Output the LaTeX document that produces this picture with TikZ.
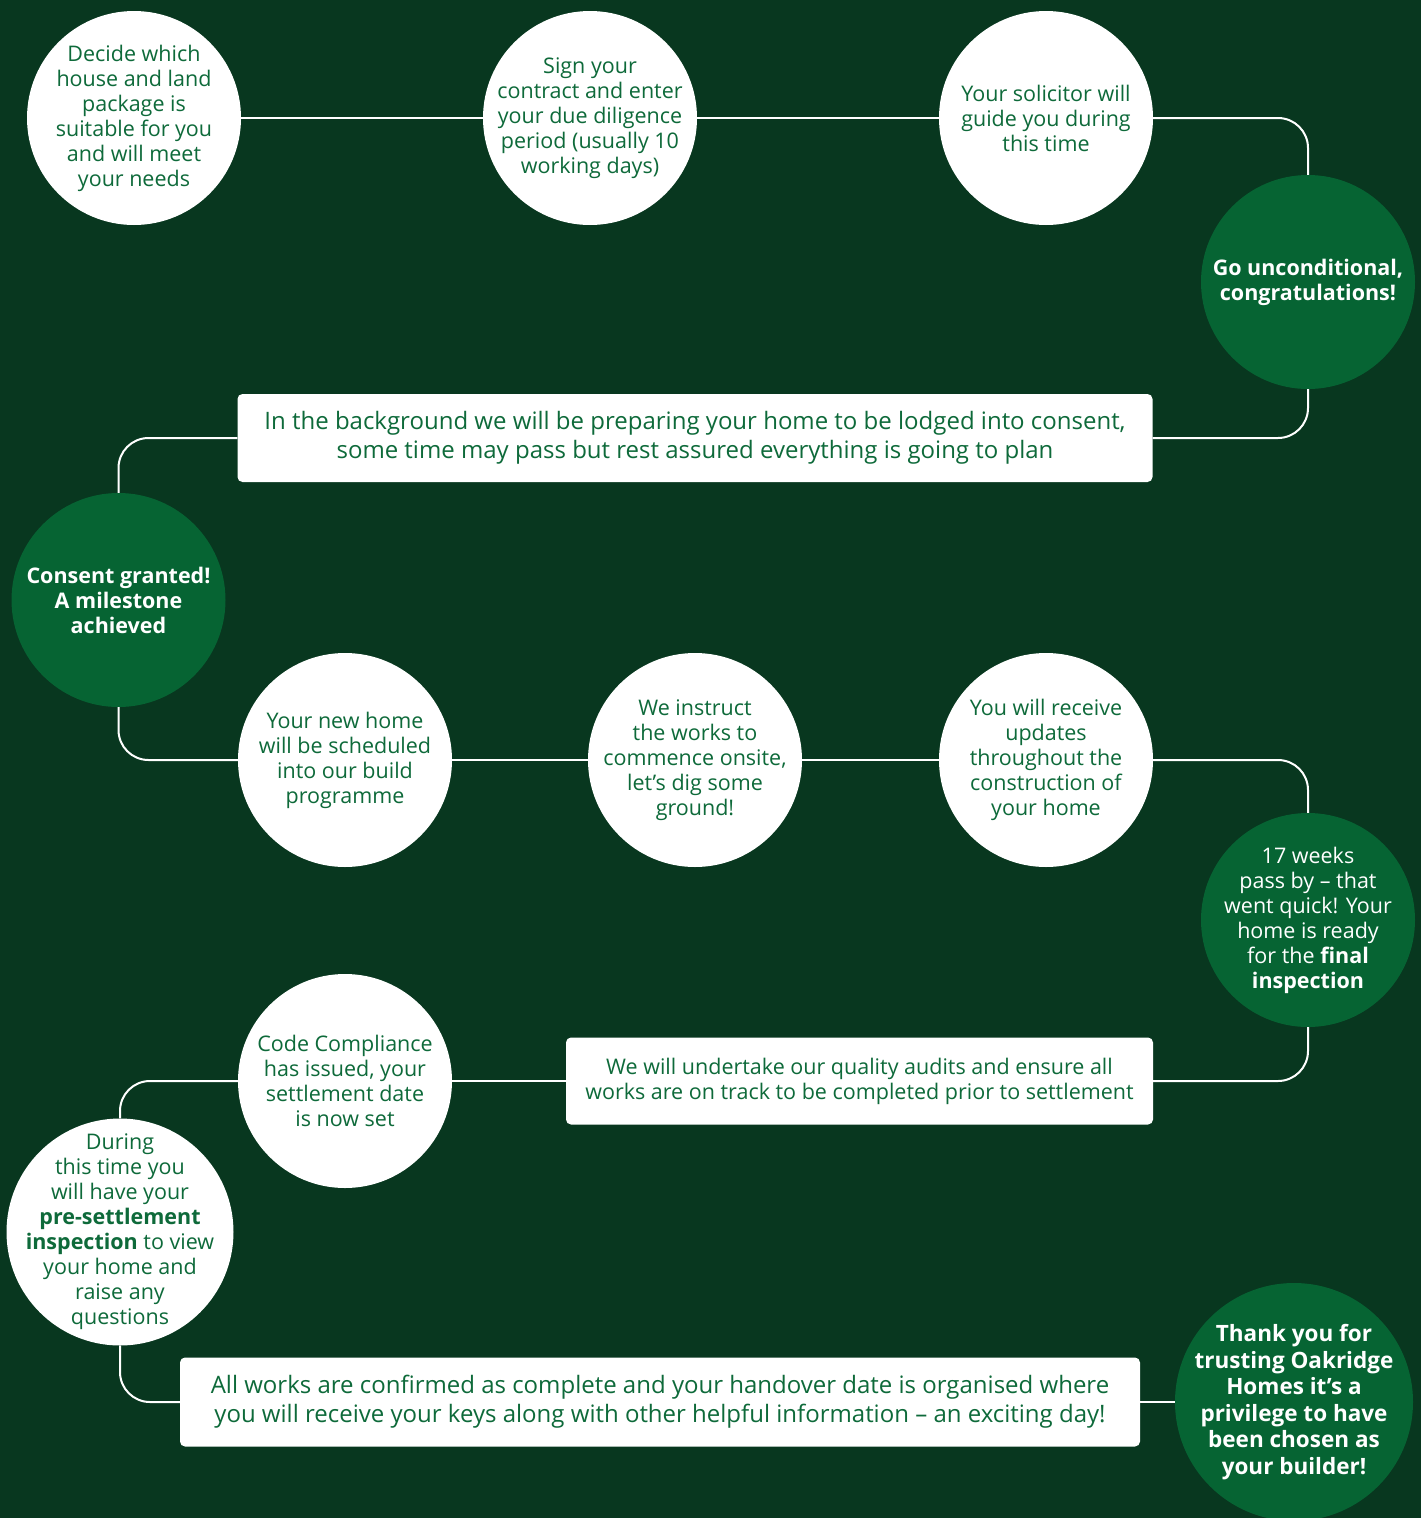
\documentclass[tikz,border=0pt]{standalone}
\usepackage{fontspec}
\setmainfont{Open Sans}
\definecolor{bgdark}{HTML}{08371F}
\definecolor{leaf}{HTML}{066433}
\definecolor{inkgreen}{HTML}{0E6A3A}
\newcommand{\stepfont}{\fontsize{21.5}{25}\selectfont}
\newcommand{\notefont}{\fontsize{24}{29}\selectfont}

\begin{document}
\begin{tikzpicture}
                \tikzset{x=1pt, y=-1pt}
                \tikzstyle{disc}=[circle, fill=white, text=inkgreen, minimum size=214pt, inner sep=-30pt, align=center, font=\stepfont]
                \tikzstyle{milestone}=[circle, fill=leaf, text=white, minimum size=214pt, inner sep=-30pt, align=center, font=\stepfont]
                \tikzstyle{note}=[rectangle, rounded corners=5pt, fill=white, text=inkgreen, inner sep=0pt, align=center, font=\notefont]
                \tikzstyle{link}=[draw=white, line width=2pt, rounded corners=30pt]

                \useasboundingbox (0,0) rectangle (1421,1518);
                \fill[bgdark] (0,0) rectangle (1421,1518);

                \draw (134, 118)    node[disc]      (c1)    {Decide which\\house and land\\package is\\suitable for you\\and will meet\\your needs};
                \draw (590, 118)    node[disc]      (c2)    {Sign your\\contract and enter\\your due diligence\\period (usually 10\\working days)};
                \draw (1046, 118)   node[disc]      (c3)    {Your solicitor will\\guide you during\\this time};
                \draw (1308, 282)   node[milestone] (g1)    {\textbf{Go unconditional,}\\\textbf{congratulations!}};

                \draw (695, 438)    node[note, minimum width=915pt, minimum height=88pt] (n1)
                                    {In the background we will be preparing your home to be lodged into consent,\\some time may pass but rest assured everything is going to plan};

                \draw (118.5, 600)  node[milestone] (g2)    {\textbf{Consent granted!}\\\textbf{A milestone}\\\textbf{achieved}};
                \draw (345, 760)    node[disc]      (c4)    {Your new home\\will be scheduled\\into our build\\programme};
                \draw (695, 760)    node[disc]      (c5)    {We instruct\\the works to\\commence onsite,\\let’s dig some\\ground!};
                \draw (1046, 760)   node[disc]      (c6)    {You will receive\\updates\\throughout the\\construction of\\your home};
                \draw (1308, 920)   node[milestone] (g3)    {17 weeks\\pass by – that\\went quick! Your\\home is ready\\for the \textbf{final}\\\textbf{inspection}};

                \draw (859.5, 1081) node[note, minimum width=587pt, minimum height=87pt, font=\stepfont] (n2)
                                    {We will undertake our quality audits and ensure all\\works are on track to be completed prior to settlement};

                \draw (345, 1081)   node[disc]      (c7)    {Code Compliance\\has issued, your\\settlement date\\is now set};
                \draw (120, 1232)   node[disc, minimum size=227pt, inner sep=-60pt] (c8)
                                    {During\\this time you\\will have your\\\textbf{pre-settlement}\\\textbf{inspection} to view\\your home and\\raise any\\questions};

                \draw (660, 1402)   node[note, minimum width=960pt, minimum height=89pt] (n3)
                                    {All works are confirmed as complete and your handover date is organised where\\you will receive your keys along with other helpful information – an exciting day!};

                \draw (1294, 1402)  node[milestone, minimum size=238pt, inner sep=-50pt, font=\fontsize{22.5}{26.5}\selectfont] (g4)
                                    {\textbf{Thank you for}\\\textbf{trusting Oakridge}\\\textbf{Homes it’s a}\\\textbf{privilege to have}\\\textbf{been chosen as}\\\textbf{your builder!}};

                \draw [link]        (c1) -- (c2);
                \draw [link]        (c2) -- (c3);
                \draw [link]        (c3) -| (g1);
                \draw [link]        (g1) |- (n1);
                \draw [link]        (n1) -| (g2);
                \draw [link]        (g2) |- (c4);
                \draw [link]        (c4) -- (c5);
                \draw [link]        (c5) -- (c6);
                \draw [link]        (c6) -| (g3);
                \draw [link]        (g3) |- (n2);
                \draw [link]        (n2) -- (c7);
                \draw [link]        (c7) -| (c8);
                \draw [link]        (c8) |- (n3);
                \draw [link]        (n3) -- (g4);
            \end{tikzpicture}
\end{document}
